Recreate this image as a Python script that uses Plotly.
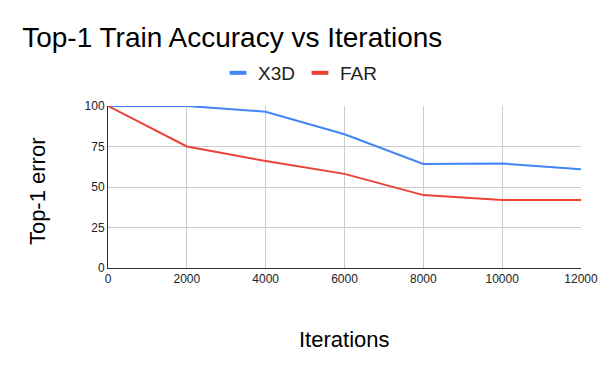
import plotly.graph_objects as go

iterations = [0, 2000, 4000, 6000, 8000, 10000, 12000]
x_labels = ["0", "2000", "4000", "6000", "8000", "10000", "12000"]
x3d = [100, 100, 96.5, 82.6, 64.2, 64.5, 61.0]
far = [100, 75.0, 66.0, 58.1, 45.0, 42.0, 41.9]

series = [("X3D", x3d, "#4285f4"), ("FAR", far, "#ea4335")]

fig = go.Figure()
for name, vals, color in series:
    fig.add_trace(go.Scatter(x=iterations, y=vals, mode="lines", name=name,
                             line=dict(color=color, width=2), showlegend=False))
# short thick legend keys like the original
for name, vals, color in series:
    fig.add_trace(go.Scatter(x=[None], y=[None], mode="markers", name=name,
                             marker=dict(symbol="line-ew", size=12,
                                         line=dict(color=color, width=4))))

fig.update_layout(
    width=600, height=371,
    margin=dict(l=108, r=19, t=106, b=103, autoexpand=False),
    paper_bgcolor="white", plot_bgcolor="white",
    font=dict(family="Arial", color="#222222"),
    title=dict(text="Top-1 Train Accuracy vs Iterations", x=0.037, xanchor="left",
               y=0.9, yanchor="middle", font=dict(size=28, color="#000000")),
    legend=dict(orientation="h", xref="container", x=0.5, xanchor="center",
                y=1.204, yanchor="middle", font=dict(size=19, color="#222222"),
                itemwidth=30),
    annotations=[
        dict(text="Iterations", xref="paper", yref="paper", x=0.5, y=-0.444,
             xanchor="center", yanchor="middle",
             showarrow=False, font=dict(size=22, color="#000000")),
        dict(text="Top-1 error", xref="paper", yref="paper", x=-0.150, y=0.475,
             xanchor="center", yanchor="middle",
             textangle=-90, showarrow=False, font=dict(size=22, color="#000000")),
    ],
)
fig.update_xaxes(
    range=[0, 12000], tickvals=iterations, ticktext=x_labels, showgrid=True,
    gridcolor="#cccccc", showline=True, linecolor="#333333", zeroline=False,
    ticks="", automargin=False, tickfont=dict(size=12, color="#222222"),
)
fig.update_yaxes(
    range=[0, 100], tickvals=[0, 25, 50, 75, 100], showgrid=True, gridcolor="#cccccc",
    showline=True, linecolor="#333333", zeroline=False, ticks="", automargin=False,
    tickfont=dict(size=12, color="#222222"),
)

fig.write_html("out.html", config={"displayModeBar": False},
               post_script="document.body.style.margin='0px';")
